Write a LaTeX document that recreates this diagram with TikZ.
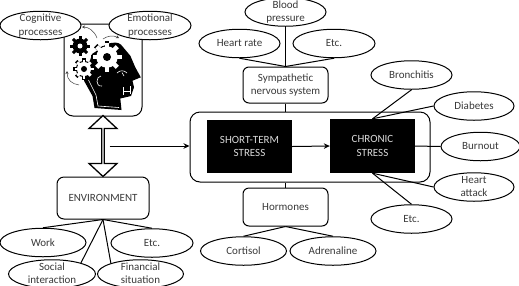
\documentclass[tikz,border=0pt]{standalone}
\usepackage{fontspec}
\setmainfont{Carlito}
\usetikzlibrary{shapes.geometric,shapes.arrows,arrows.meta}
\definecolor{ink}{HTML}{3A3A3A}
% a cog wheel: centre x, centre y, radius, body colour
\newcommand{\cogwheel}[4]{%
  \fill[#4] (#1,#2) circle[radius=#3*0.74];
  \foreach \a in {0,45,...,315}
    \draw[#4,line width=#3*0.3pt] ({#1+#3*0.6*cos(\a)},{#2+#3*0.6*sin(\a)}) -- ({#1+#3*cos(\a)},{#2+#3*sin(\a)});
}
% two centred lines that do not widen the ellipse around them
\newcommand{\twolines}[2]{\smash{\raisebox{-0.28em}{\begin{tabular}[c]{@{}c@{}}#1\\#2\end{tabular}}}}
\tikzset{
  bubble/.style={ellipse,draw=black,fill=white,line width=1pt,inner sep=0pt,minimum height=28.5pt,minimum width=#1,text=ink,font=\fontsize{11}{13.3}\selectfont},
  bubble/.default=81pt,
  panel/.style={rectangle,rounded corners=6pt,draw=black,fill=white,line width=1pt,inner sep=0pt,align=center,text=ink,font=\fontsize{11}{13.3}\selectfont},
  stressbox/.style={rectangle,fill=black,text=white!85!black,inner sep=0pt,align=center,font=\fontsize{11}{13.3}\selectfont},
  link/.style={draw=black,line width=1pt},
  flow/.style={draw=black,line width=1pt,-{Stealth[length=6pt,width=5.5pt]}},
  turn/.style={draw=black!75,line width=0.5pt,-{Stealth[length=3pt,width=3pt]}},
  detail/.style={draw=white,line width=0.6pt}
}
\begin{document}
\begin{tikzpicture}[x=1pt,y=-1pt]
\useasboundingbox (0,0) rectangle (519,285);
\clip (0,0) rectangle (519,285);

% head frame
\node[panel,minimum width=78pt,minimum height=92pt,rounded corners=9pt] (mind) at (103,70) {};

% head silhouette
\fill[black] (107,44) .. controls (114,42) and (118,42) .. (121,44.7)
  -- (130.3,55.7) -- (135.3,67.3) -- (140.8,77.3) -- (132.5,80.7) -- (134,87.3)
  -- (131,96) -- (120.3,98.5) -- (121.5,110) -- (94.5,108) -- (92.5,96)
  -- (84,80.7) -- (92,54) -- cycle;
\draw[detail] (88.5,80) -- (96,95) -- (98,106) -- (119,107.5);
\draw[detail] (101,76) .. controls (96,76) and (95,87) .. (102,86);
\draw[detail] (123,87) -- (123,95) (130,86) -- (130,94) (123,91) -- (130,91);
\draw[detail] (117,73) .. controls (120,70) and (124,70) .. (127,73);
\draw[detail] (122,72.5) -- (124,76);

% cog wheels
\cogwheel{80}{46}{10}{black}
\fill[white] (80,46) circle[radius=2.5];
\cogwheel{84}{69}{11}{black}
\cogwheel{84}{69}{9.5}{white}
\fill[black] (84,69) circle[radius=3];
\cogwheel{107}{57}{16}{black}
\cogwheel{107}{57}{14.5}{white}
\fill[black] (107,57) circle[radius=4];

% rotation marks
\draw[turn] (97,38) .. controls (94,30) and (88,27) .. (82,27);
\draw[turn] (103,39) .. controls (107,36) and (113,35) .. (119,38);
\draw[turn] (79,85) .. controls (72,84) and (67,80) .. (67,71);

% core stress frame
\node[panel,minimum width=240pt,minimum height=70pt,rounded corners=10pt] (core) at (310,147) {};
\node[stressbox,minimum width=85pt,minimum height=53pt] (acute) at (249.5,146.5) {SHORT-TERM\\STRESS};
\node[stressbox,minimum width=85pt,minimum height=54pt] (chronic) at (372.5,146) {CHRONIC\\STRESS};

% body systems and environment
\node[panel,minimum width=85pt,minimum height=36pt] (symp) at (285.5,85) {Sympathetic\\nervous system};
\node[panel,minimum width=85pt,minimum height=38pt] (horm) at (285.5,207) {Hormones};
\node[panel,minimum width=92pt,minimum height=42pt,rounded corners=7pt] (env) at (103,198) {ENVIRONMENT};

% ellipses
\node[bubble] (cog) at (40.5,25.5) {\twolines{Cognitive}{processes}};
\node[bubble=82pt] (emo) at (150,25.5) {\twolines{Emotional}{processes}};
\node[bubble] (blood) at (285.5,12) {\twolines{Blood}{pressure}};
\node[bubble] (rate) at (239.5,43.5) {Heart rate};
\node[bubble=82pt] (etctop) at (334,43.5) {Etc.};
\node[bubble] (bron) at (411.5,75) {Bronchitis};
\node[bubble=80pt] (diab) at (474,106) {Diabetes};
\node[bubble=79pt] (burn) at (480.5,146.5) {Burnout};
\node[bubble=80pt] (heart) at (474,187) {\twolines{Heart}{attack}};
\node[bubble] (etcright) at (411.5,219) {Etc.};
\node[bubble=86pt] (cort) at (243.5,251) {Cortisol};
\node[bubble=86pt] (adre) at (333,251) {Adrenaline};
\node[bubble=86pt] (work) at (43,242.5) {Work};
\node[bubble=82pt] (etcenv) at (152,243) {Etc.};
\node[bubble=87pt] (soc) at (52,274) {\twolines{Social}{interaction}};
\node[bubble=86pt] (fin) at (140.5,274) {\twolines{Financial}{situation}};

% double arrow between head and environment
\node[double arrow,draw=black,fill=white,line width=1.3pt,rotate=90,inner sep=0pt,
      minimum height=61pt,minimum width=28pt,double arrow head extend=7pt,
      double arrow tip angle=94] (exchange) at (103,146) {};

% connectors
\coordinate (exchangeside) at (109.5,146);
\path[flow] (exchangeside) -- (core.west |- exchangeside);
\path[flow] (acute.east) -- (chronic.west);
\path[link] (blood.south) -- (symp.north);
\path[link] (rate.south) -- (symp.north);
\path[link] (etctop.south) -- (symp.north);
\path[link] (symp.south) -- (core.north -| symp.south);
\path[link] (horm.north) -- (core.south -| horm.north);
\path[link] (horm.south) -- (cort.north);
\path[link] (horm.south) -- (adre.north);
\path[link] (env.south) -- (work.north);
\path[link] (env.south) -- (etcenv.north);
\path[link] (env.south) -- (soc.21);
\path[link] (env.south) -- (fin.160);
\path[link] (chronic.north) -- (bron.south);
\path[link] (chronic.north) -- (diab.west);
\path[link] (chronic.east) -- (burn.west);
\path[link] (chronic.south) -- (heart.west);
\path[link] (chronic.south) -- (etcright.north);
\end{tikzpicture}
\end{document}
